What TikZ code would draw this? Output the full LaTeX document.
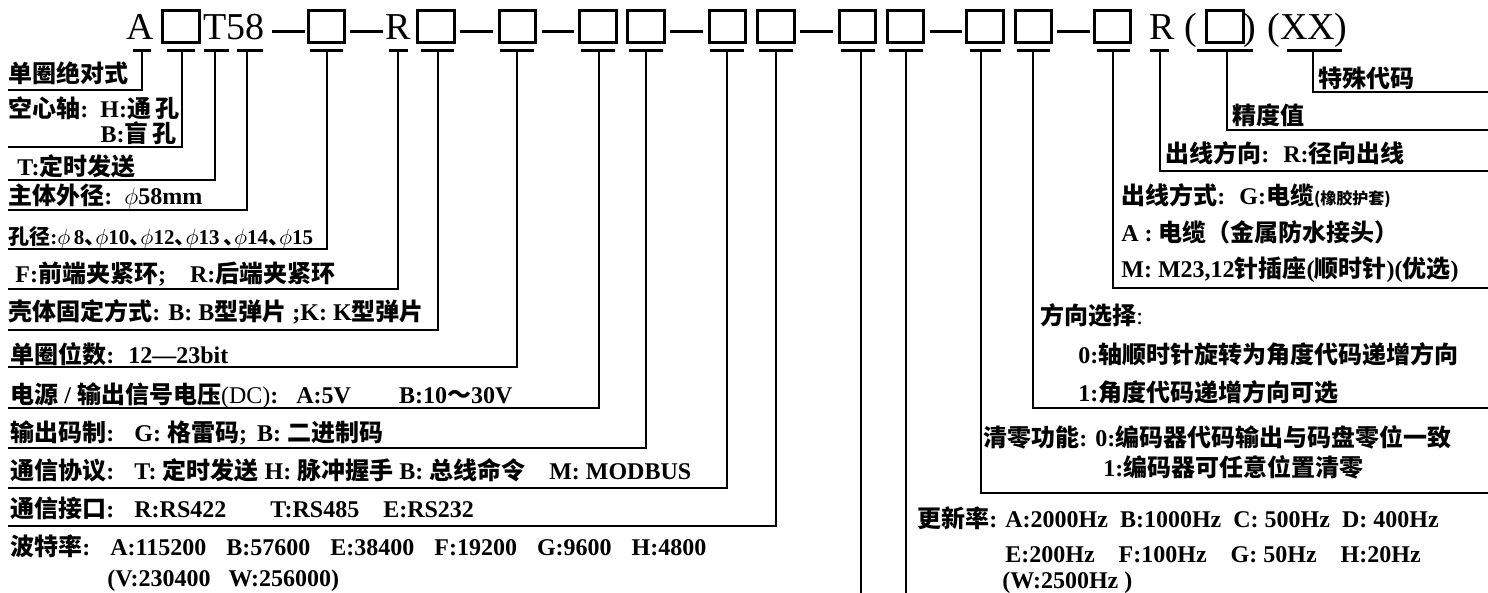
\documentclass[tikz,border=0pt]{standalone}
\usepackage{fontspec}
\setmainfont{Liberation Serif}
\newfontfamily\zhfont{Noto Sans CJK SC}
\usetikzlibrary{calc,positioning}
\tikzset{
        codebox/.style = {draw, line width=1.4pt, inner sep=0pt,
            minimum width=18.2pt,
            minimum height=16pt},
        codetxt/.style = {inner sep=0pt, anchor=base,
            font=\fontsize{19}{19}\selectfont},
        codebar/.style = {line width=1.5pt},
        lead/.style = {line width=0.65pt},
        lbl/.style = {inner sep=0pt, anchor=base west,
            font=\fontsize{12}{14}\selectfont\bfseries},
        lblr/.style = {lbl, anchor=base east},
    }
\newcommand{\zh}[1]{{\zhfont #1}}
\newcommand{\dun}{\zh{、}\kern-5pt}

\begin{document}
\begin{tikzpicture}[x=0.5pt,y=-0.5pt]
\useasboundingbox (0,0) rectangle (1488,593);

% type code
\node[codetxt] (cA) at (140.5,40) {A};
\node[codebox] (b1) at (181,26.5) {};
\node[codetxt] (cT) at (234,40) {T58};
\node[codebox] (b2) at (326.5,26.5) {};
\node[codetxt] (cR) at (398.5,40) {R};
\node[codebox] (b3) at (436,26.5) {};
\node[codebox] (b4) at (517.5,26.5) {};
\node[codebox] (b5) at (598,26.5) {};
\node[codebox] (b6) at (646,26.5) {};
\node[codebox] (b7) at (727.5,26.5) {};
\node[codebox] (b8) at (776,26.5) {};
\node[codebox] (b9) at (857.5,26.5) {};
\node[codebox] (b10) at (905.5,26.5) {};
\node[codebox] (b11) at (985,26.5) {};
\node[codebox] (b12) at (1033.5,26.5) {};
\node[codebox] (b13) at (1112.5,26.5) {};
\node[codetxt] (cR2) at (1162,40) {R};
\node[codetxt] (cL) at (1191,40) {(};
\node[codebox] (b14) at (1225,26.5) {};
\node[codetxt] (cRp) at (1250,40) {)};
\node[codetxt] (cX) at (1307.5,40) {(XX)};

\draw[codebar] (272,31.5) -- (305,31.5) (350,31.5) -- (383,31.5)
    (460,31.5) -- (493,31.5) (542,31.5) -- (574,31.5)
    (670,31.5) -- (703,31.5) (800,31.5) -- (833,31.5)
    (930,31.5) -- (962,31.5) (1057,31.5) -- (1090,31.5);

% underlines
\draw[codebar] (133,51) -- (151,51) (167,51) -- (195,51)
    (204,51) -- (229,51) (237,51) -- (263,51)
    (310,51) -- (343,51) (389,51) -- (408,51)
    (421,51) -- (454,51) (500,51) -- (534,51)
    (581,51) -- (615,51) (629,51) -- (663,51)
    (710,51) -- (744,51) (759,51) -- (793,51)
    (841,51) -- (875,51) (889,51) -- (923,51)
    (970,51) -- (1001,51) (1017,51) -- (1050,51)
    (1097,51) -- (1130,51) (1150,51) -- (1169,51)
    (1197,51) -- (1253,51) (1287,51) -- (1342,51);

\coordinate (uA) at (142,51);   \coordinate (eA) at (8,90);
\coordinate (u1) at (182,51);   \coordinate (e1) at (8,147);
\coordinate (uT) at (215,51);   \coordinate (eT) at (8,180);
\coordinate (u58) at (247,51);  \coordinate (e58) at (8,210);
\coordinate (u2) at (327,51);   \coordinate (e2) at (8,249);
\coordinate (uR) at (398,51);   \coordinate (eR) at (8,289);
\coordinate (u3) at (438,51);   \coordinate (e3) at (8,330);
\coordinate (u4) at (517,51);   \coordinate (e4) at (8,367);
\coordinate (u5) at (599,51);   \coordinate (e5) at (8,408);
\coordinate (u6) at (646,51);   \coordinate (e6) at (8,448);
\coordinate (u7) at (727,51);   \coordinate (e7) at (8,488);
\coordinate (u8) at (776,51);   \coordinate (e8) at (8,526);
\coordinate (u9) at (861,51);   \coordinate (e9) at (861,593);
\coordinate (u10) at (906,51);  \coordinate (e10) at (906,593);
\coordinate (u11) at (981,51);  \coordinate (e11) at (1488,493);
\coordinate (u12) at (1033,51); \coordinate (e12) at (1488,408);
\coordinate (u13) at (1113,51); \coordinate (e13) at (1488,288);
\coordinate (uR2) at (1160,51); \coordinate (eR2) at (1488,171);
\coordinate (u14) at (1227,51); \coordinate (e14) at (1488,130);
\coordinate (uX) at (1313,51);  \coordinate (eX) at (1488,92);

% left side
\node[lbl] (lA) at (8,83) {\zh{单圈绝对式}};
\node[lbl] (l1) at (8,118) {\zh{空心轴}: \,H:\zh{通}\,\zh{孔}};
\node[lblr] (l1b) at (177,143) {B:\zh{盲}\,\zh{孔}};
\node[lbl] (lT) at (17,176) {T:\zh{定时发送}};
\node[lbl] (l58) at (8,205) {\zh{主体外径}: \,$\phi$58mm};
\node[lbl, font=\fontsize{10.5}{12}\selectfont\bfseries] (l2) at (8,245)
    {\zh{孔径}:$\phi$\,8\dun$\phi$10\dun$\phi$12\dun$\phi$13\,\dun$\phi$14\dun$\phi$15};
\node[lbl] (lR) at (15,283) {F:\zh{前端夹紧环};\quad R:\zh{后端夹紧环}};
\node[lbl] (l3) at (8,321) {\zh{壳体固定方式}: B: B\zh{型弹片} ;K: K\zh{型弹片}};
\node[lbl] (l4) at (10,363) {\zh{单圈位数}: \ 12---23bit};
\node[lbl] (l5) at (10,403) {\zh{电源} / \zh{输出信号电压}{\mdseries(DC)}: \enspace A:5V\hspace{24pt}B:10\zh{～}30V};
\node[lbl] (l6) at (10,441) {\zh{输出码制}: \enspace G: \zh{格雷码}; \,B: \zh{二进制码}};
\node[lbl] (l7) at (10,479) {\zh{通信协议}: \enspace T: \zh{定时发送} H: \zh{脉冲握手} B: \zh{总线命令}\quad M: MODBUS};
\node[lbl] (l8) at (10,517) {\zh{通信接口}: \enspace R:RS422\hspace{22pt}T:RS485\hspace{12pt}E:RS232};
\node[lbl] (l9) at (10,555) {\zh{波特率}: \enspace A:115200\hspace{10pt}B:57600\hspace{10pt}E:38400\hspace{10pt}F:19200\hspace{10pt}G:9600\hspace{10pt}H:4800};
\node[lbl] (l9b) at (107,586) {(V:230400\hspace{9pt}W:256000)};

% right side
\node[lbl] (rX) at (1318,88) {\zh{特殊代码}};
\node[lbl] (r14) at (1232,125) {\zh{精度值}};
\node[lbl] (rR2) at (1165,163) {\zh{出线方向}: \ R:\zh{径向出线}};
\node[lbl] (r13) at (1121,205) {\zh{出线方式}: \ G:\zh{电缆}{\fontsize{8}{9}\selectfont\zh{(橡胶护套)}}};
\node[lbl] (r13b) at (1121,242) {A : \zh{电缆（金属防水接头）}};
\node[lbl] (r13c) at (1121,278) {M: M23,12\zh{针插座}(\zh{顺时针})(\zh{优选})};
\node[lbl] (r12) at (1040,324) {\zh{方向选择}{\mdseries:}};
\node[lbl] (r12b) at (1078,363) {0:\zh{轴顺时针旋转为角度代码递增方向}};
\node[lbl] (r12c) at (1078,401) {1:\zh{角度代码递增方向可选}};
\node[lbl] (r11) at (983,446) {\zh{清零功能}: 0:\zh{编码器代码输出与码盘零位一致}};
\node[lbl] (r11b) at (1103,476) {1:\zh{编码器可任意位置清零}};
\node[lbl] (r10) at (917,527) {\zh{更新率}: A:2000Hz\enspace B:1000Hz\enspace C: 500Hz\enspace D: 400Hz};
\node[lbl] (r10b) at (1005,562) {E:200Hz\quad F:100Hz\quad G: 50Hz\quad H:20Hz};
\node[lbl] (r10c) at (1002,588) {(W:2500Hz )};

% leaders
\draw[lead] (uA) |- (eA);
\draw[lead] (u1) |- (e1);
\draw[lead] (uT) |- (eT);
\draw[lead] (u58) |- (e58);
\draw[lead] (u2) |- (e2);
\draw[lead] (uR) |- (eR);
\draw[lead] (u3) |- (e3);
\draw[lead] (u4) |- (e4);
\draw[lead] (u5) |- (e5);
\draw[lead] (u6) |- (e6);
\draw[lead] (u7) |- (e7);
\draw[lead] (u8) |- (e8);
\draw[lead] (u9) -- (e9);
\draw[lead] (u10) -- (e10);
\draw[lead] (u11) |- (e11);
\draw[lead] (u12) |- (e12);
\draw[lead] (u13) |- (e13);
\draw[lead] (uR2) |- (eR2);
\draw[lead] (u14) |- (e14);
\draw[lead] (uX) |- (eX);
\end{tikzpicture}
\end{document}
